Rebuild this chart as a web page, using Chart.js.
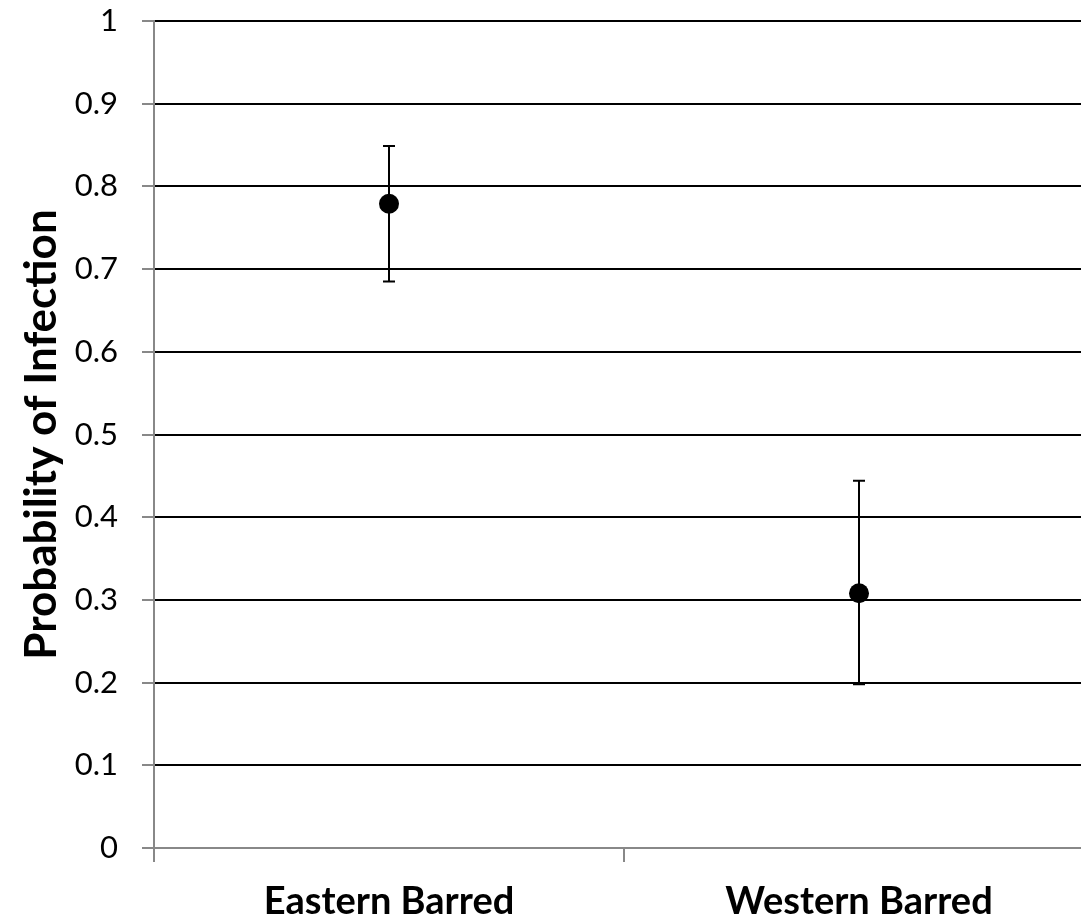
<!DOCTYPE html>
<html>
<head>
<meta charset="utf-8">
<script src="https://cdn.jsdelivr.net/npm/chart.js"></script>
<style>
    html, body { margin: 0; padding: 0; overflow: hidden; background: #fff; }
    #infectionChart { display: block; }
</style>
</head>
<body>
<canvas id="infectionChart" width="1104" height="922"></canvas>
<script>
const categories = ["Eastern Barred", "Western Barred"];
const probability = [0.779, 0.308];
const lowerCI = [0.685, 0.198];
const upperCI = [0.849, 0.444];
const yTicks = [0, 0.1, 0.2, 0.3, 0.4, 0.5, 0.6, 0.7, 0.8, 0.9, 1];

// error bars drawn under the points
const errorBars = {
    id: "errorBars",
    beforeDatasetsDraw(chart) {
        const ctx = chart.ctx;
        const y = chart.scales.y;
        const meta = chart.getDatasetMeta(0);
        ctx.save();
        ctx.strokeStyle = "#000";
        ctx.lineWidth = 2;
        meta.data.forEach((pt, i) => {
            const top = y.getPixelForValue(upperCI[i]);
            const bot = y.getPixelForValue(lowerCI[i]);
            ctx.beginPath();
            ctx.moveTo(pt.x, top);
            ctx.lineTo(pt.x, bot);
            ctx.moveTo(pt.x - 6, top);
            ctx.lineTo(pt.x + 6, top);
            ctx.moveTo(pt.x - 6, bot);
            ctx.lineTo(pt.x + 6, bot);
            ctx.stroke();
        });
        ctx.restore();
    },
};

const infectionChart = document.getElementById("infectionChart");
new Chart(infectionChart, {
    type: "line",
    data: {
        labels: categories,
        datasets: [
            {
                data: probability,
                showLine: false,
                pointRadius: 10,
                pointHoverRadius: 10,
                pointBackgroundColor: "#000",
                pointBorderColor: "#000",
                pointBorderWidth: 0,
            },
        ],
    },
    options: {
        animation: false,
        responsive: false,
        layout: { padding: { top: 21, right: 0, bottom: 0, left: 0 } },
        plugins: {
            legend: { display: false },
            tooltip: { enabled: false },
        },
        scales: {
            x: {
                offset: true,
                grid: {
                    offset: true,
                    drawOnChartArea: false,
                    tickLength: 14,
                    tickColor: "#888",
                    lineWidth: 2,
                },
                border: { color: "#888", width: 2 },
                ticks: {
                    color: "#000",
                    padding: 17,
                    maxRotation: 0,
                    font: { family: "Lato", size: 38, weight: "bold" },
                },
                afterFit(scale) {
                    scale.height = 74;
                    scale.paddingLeft = 0;
                    scale.paddingRight = 0;
                },
            },
            y: {
                min: 0,
                max: 1,
                afterBuildTicks(scale) {
                    scale.ticks = yTicks.map((v) => ({ value: v }));
                },
                grid: {
                    color: "#000",
                    lineWidth: 2,
                    tickLength: 12,
                    tickColor: "#888",
                },
                border: { color: "#888", width: 2 },
                ticks: {
                    color: "#000",
                    padding: 24,
                    font: { family: "Lato", size: 31 },
                    callback: (v) => String(v),
                },
                title: {
                    display: true,
                    text: "Probability of Infection",
                    color: "#000",
                    padding: { top: 15, bottom: 0 },
                    font: { family: "Lato", size: 44, weight: "bold" },
                },
                afterFit(scale) {
                    scale.width = 154;
                    scale.paddingTop = 0;
                    scale.paddingBottom = 0;
                },
            },
        },
    },
    plugins: [errorBars],
});
</script>
</body>
</html>
